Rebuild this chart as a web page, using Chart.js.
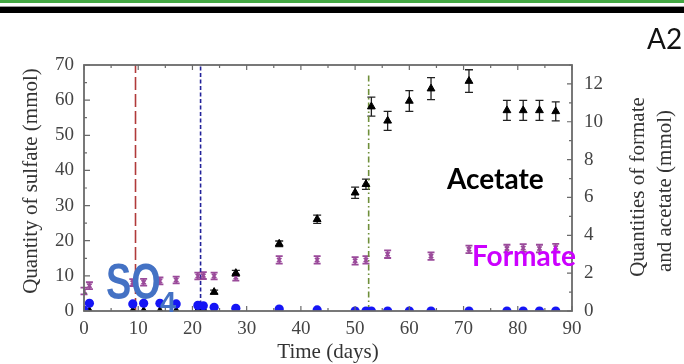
<!DOCTYPE html>
<html><head><meta charset="utf-8">
<script src="https://cdn.jsdelivr.net/npm/chart.js@4.4.0/dist/chart.umd.min.js"></script>
<style>
html,body{margin:0;padding:0;background:#fff;}
#wrap{position:relative;width:684px;height:364px;overflow:hidden;background:#fff;}
#c{position:absolute;left:0;top:0;}
.band{position:absolute;left:0;width:684px;}
#a2{position:absolute;left:647px;top:22px;font:28px Lato, sans-serif;color:#111;line-height:32px;}
</style></head><body>
<div id="wrap">
<canvas id="c" width="684" height="364"></canvas>
<div class="band" style="top:0;height:3px;background:#44a844"></div>
<div class="band" style="top:6px;height:1px;background:#9a9a9a"></div>
<div class="band" style="top:7px;height:6px;background:#000"></div>
<div id="a2">A2</div>
</div>
<script>
// ---- data ----
const sulfateDays = [0,1,9,11,14,17,21,22,24,28,36,43,50,52,53,56,60,64,71,78,81,84,87];
const sulfate     = [0.2,2.2,2.0,2.2,2.2,2.0,1.6,1.5,1.05,0.75,0.55,0.3,0,0,0,0,0,0,0,0,0,0,0];

const acetateDays = [0,1,9,11,14,17,21,22,24,28,36,43,50,52,53,56,60,64,71,78,81,84,87];
const acetate     = [0,0,0,0,0,0,0.05,0.1,1.0,2.0,3.55,4.85,6.25,6.7,10.8,10.05,11.1,11.75,12.15,10.6,10.6,10.6,10.55];
const acetateErr  = [0,0,0,0,0,0,0,0,0.1,0.15,0.15,0.22,0.3,0.27,0.5,0.5,0.55,0.58,0.6,0.53,0.53,0.53,0.5];

const formateDays = [0,1,9,11,14,17,21,22,24,28,36,43,50,52,56,64,71,78,81,84,87];
const formate     = [1.06,1.34,1.5,1.52,1.59,1.64,1.85,1.87,1.85,1.78,2.7,2.7,2.65,2.7,3.0,2.9,3.26,3.3,3.33,3.3,3.35];
const formateErr  = [0.18,0.18,0.18,0.18,0.18,0.18,0.18,0.18,0.18,0.18,0.2,0.2,0.2,0.2,0.2,0.2,0.2,0.2,0.2,0.2,0.2];

const eventDays = [9.5, 21.5, 52.5];   // vertical marker lines
const eventTops = [70, 70, 67.6];

const xTicks = [0,10,20,30,40,50,60,70,80,90];
const leftTicks = [0,10,20,30,40,50,60,70];
const rightTicks = [0,2,4,6,8,10,12];

const pts = (xs, ys) => xs.map((x,i)=>({x, y: ys[i]}));

const serif = '"Liberation Serif", "DejaVu Serif", serif';
const sans = '"Liberation Sans", Arial, sans-serif';
Chart.defaults.font.family = serif;
Chart.defaults.font.size = 19;
Chart.defaults.color = '#444';
const tickFont = {family: serif, size: 19, weight: 'normal', style: 'normal'};
const tickColor = '#444';
const frameColor = '#6a6a6a';

const errorBars = {
  id:'errorBars',
  beforeDatasetsDraw(chart){
    const ctx = chart.ctx;
    chart.data.datasets.forEach((ds, di)=>{
      if(!ds.errors) return;
      const meta = chart.getDatasetMeta(di);
      const sc = chart.scales[ds.yAxisID];
      ctx.save();
      ctx.strokeStyle = ds.errColor; ctx.lineWidth = ds.errW;
      meta.data.forEach((el, i)=>{
        const e = ds.errors[i]; if(!e) return;
        const v = ds.data[i].y;
        const y1 = sc.getPixelForValue(v - e), y2 = sc.getPixelForValue(v + e);
        const x = el.x, w = ds.capW;
        ctx.beginPath();
        ctx.moveTo(x, y1); ctx.lineTo(x, y2);
        ctx.moveTo(x-w, y1); ctx.lineTo(x+w, y1);
        ctx.moveTo(x-w, y2); ctx.lineTo(x+w, y2);
        ctx.stroke();
      });
      ctx.restore();
    });
  }
};

const frameTicks = {
  id:'frameTicks',
  afterDatasetsDraw(chart){
    const {ctx, chartArea:a, scales} = chart;
    ctx.save();
    ctx.strokeStyle = frameColor; ctx.lineWidth = 1.8;
    ctx.strokeRect(a.left, a.top, a.right-a.left, a.bottom-a.top);
    ctx.lineWidth = 1.2;
    ctx.beginPath();
    for(let v=0; v<=90; v+=5){
      const x = scales.x.getPixelForValue(v), L = (v%10===0)?5:3;
      ctx.moveTo(x, a.bottom); ctx.lineTo(x, a.bottom-L);
      ctx.moveTo(x, a.top); ctx.lineTo(x, a.top+L);
    }
    for(let v=0; v<=70; v+=5){
      const y = scales.y.getPixelForValue(v), L = (v%10===0)?6:3;
      ctx.moveTo(a.left, y); ctx.lineTo(a.left+L, y);
    }
    for(let v=0; v<=13; v+=1){
      const y = scales.y2.getPixelForValue(v), L = (v%2===0)?5:3;
      ctx.moveTo(a.right, y); ctx.lineTo(a.right-L, y);
    }
    ctx.stroke();
    ctx.restore();
  }
};

const annotations = {
  id:'annotations',
  afterDraw(chart){
    const ctx = chart.ctx;
    ctx.save();
    ctx.textBaseline = 'alphabetic';
    // axis titles
    ctx.fillStyle = '#333';
    ctx.font = '21px ' + serif;
    ctx.textAlign = 'center';
    ctx.save(); ctx.translate(37, 181); ctx.rotate(-Math.PI/2);
    ctx.fillText('Quantity of sulfate (mmol)', 0, 0); ctx.restore();
    ctx.save(); ctx.translate(644, 187); ctx.rotate(-Math.PI/2);
    ctx.fillText('Quantities of formate', 0, 0); ctx.restore();
    ctx.save(); ctx.translate(671, 191); ctx.rotate(-Math.PI/2);
    ctx.fillText('and acetate (mmol)', 0, 0); ctx.restore();
    ctx.fillText('Time (days)', 328, 358);
    // in-plot labels
    ctx.textAlign = 'left';
    ctx.fillStyle = '#4472c4';
    ctx.save(); ctx.translate(106, 299); ctx.scale(0.86, 1.12);
    ctx.font = 'bold 44px ' + sans; ctx.fillText('SO', 0, 0); ctx.restore();
    ctx.font = 'bold 29px ' + sans; ctx.fillText('4', 160, 312);
    ctx.fillStyle = '#000';
    ctx.font = 'bold 28px Lato, ' + sans; ctx.fillText('Acetate', 447, 189);
    ctx.fillStyle = '#cc00ff';
    ctx.font = 'bold 28px Lato, ' + sans; ctx.fillText('Formate', 472, 266);
    ctx.restore();
  }
};

const lineColors = ['#b03a3a', '#22229a', '#6f8f3a'];
const lineDash = [[13,4], [4,2.5], [6,3,1.5,3]];
const eventSets = eventDays.map((d,i)=>({
  type:'line', data:[{x:d,y:0},{x:d,y:eventTops[i]}], yAxisID:'y',
  borderColor: lineColors[i], borderWidth: 1.6, borderDash: lineDash[i],
  pointRadius:0, showLine:true, fill:false, order: 5
}));

new Chart(document.getElementById('c'), {
  type:'scatter',
  data:{datasets:[
    {label:'Sulfate', data: pts(sulfateDays, sulfate), yAxisID:'y',
     pointStyle:'circle', pointRadius:4.6, backgroundColor:'#1515f5', borderColor:'#1515f5', borderWidth:0, order:1},
    {label:'Acetate', data: pts(acetateDays, acetate), yAxisID:'y2', errors: acetateErr, errColor:'#222', capW:4, errW:1.3,
     pointStyle:'triangle', pointRadius:4.5, backgroundColor:'#000', borderColor:'#000', borderWidth:1, order:2},
    {label:'Formate', data: pts(formateDays, formate), yAxisID:'y2', errors: formateErr, errColor:'#9a4a9a', capW:3.5, errW:1.8,
     pointStyle:'crossRot', pointRadius:3, backgroundColor:'#9a4a9a', borderColor:'#9a4a9a', borderWidth:1.8, order:3},
    ...eventSets
  ]},
  options:{
    responsive:false, animation:false, devicePixelRatio:1,
    font:{family: serif, size: 19},
    layout:{padding:{left:0,right:0,top:65,bottom:0}},
    plugins:{legend:{display:false}, tooltip:{enabled:false}},
    scales:{
      x:{type:'linear', position:'bottom', min:0, max:90,
         afterBuildTicks(s){ s.ticks = xTicks.map(v=>({value:v})); },
         ticks:{font:tickFont, color:tickColor, padding:7, maxRotation:0, autoSkip:false},
         grid:{display:false, drawTicks:false}, border:{display:false},
         afterFit(s){ s.height = 364-311; }},
      y:{type:'linear', position:'left', min:0, max:70,
         afterBuildTicks(s){ s.ticks = leftTicks.map(v=>({value:v})); },
         ticks:{font:tickFont, color:tickColor, padding:10},
         grid:{display:false, drawTicks:false}, border:{display:false},
         afterFit(s){ s.width = 84; }},
      y2:{type:'linear', position:'right', min:0, max:13,
         afterBuildTicks(s){ s.ticks = rightTicks.map(v=>({value:v})); },
         ticks:{font:tickFont, color:tickColor, padding:12},
         grid:{display:false, drawTicks:false}, border:{display:false},
         afterFit(s){ s.width = 684-572; }}
    }
  },
  plugins:[errorBars, frameTicks, annotations]
});
</script>
</body></html>
